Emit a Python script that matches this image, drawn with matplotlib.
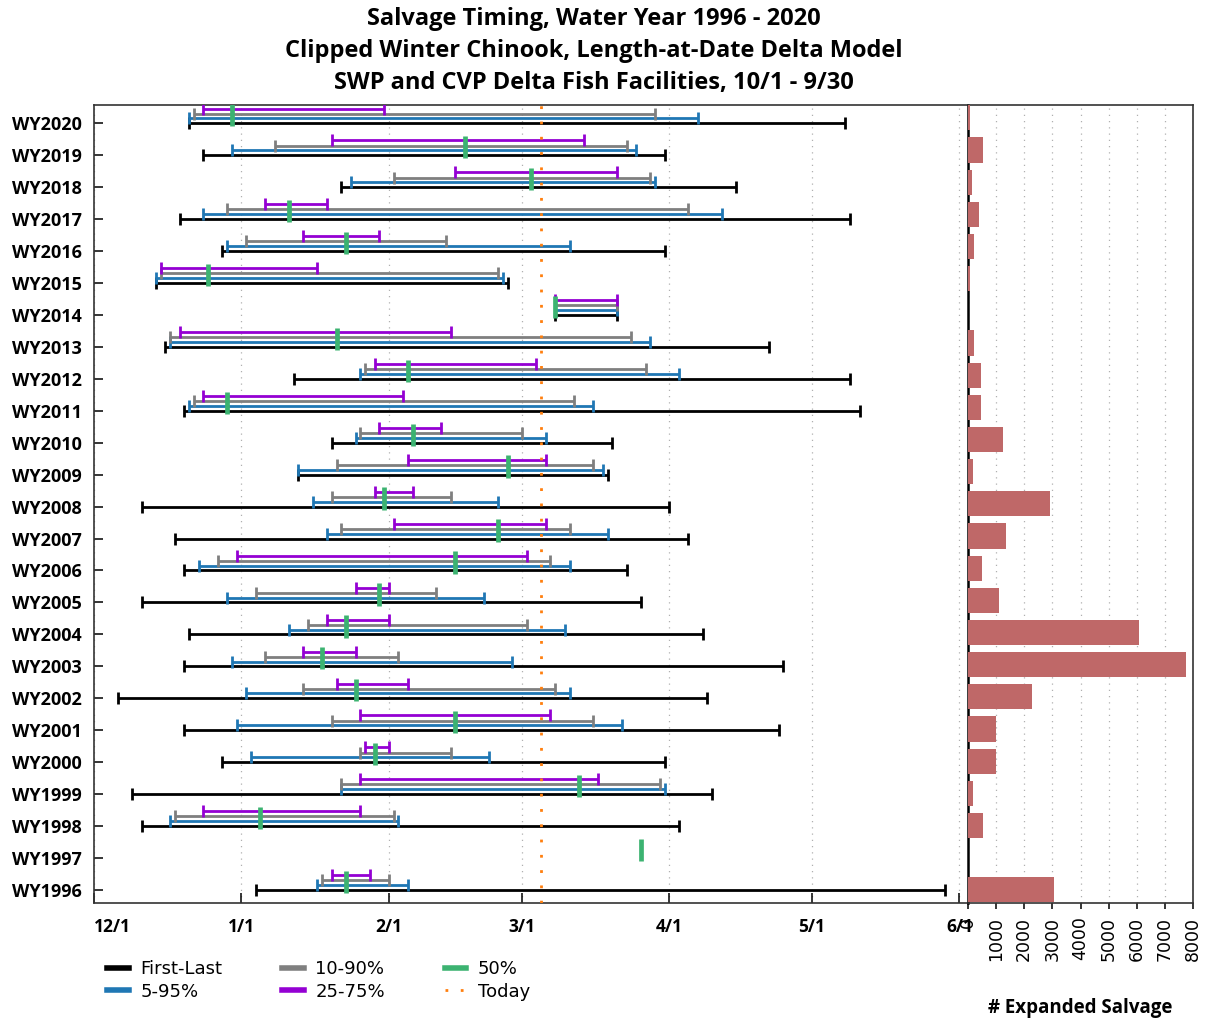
import matplotlib
matplotlib.use('Agg')
import matplotlib.pyplot as plt
import numpy as np
from matplotlib.lines import Line2D

nan = float('nan')

# ---- data (days after 12/1) ----
years = ["WY1996", "WY1997", "WY1998", "WY1999", "WY2000", "WY2001", "WY2002",
         "WY2003", "WY2004", "WY2005", "WY2006", "WY2007", "WY2008", "WY2009",
         "WY2010", "WY2011", "WY2012", "WY2013", "WY2014", "WY2015", "WY2016",
         "WY2017", "WY2018", "WY2019", "WY2020"]
first_day = [34, nan, 10, 8, 27, 19, 5, 19, 20, 10, 19, 17, 10, 43, 50, 19, 42, 15, 97, 13, 27, 18, 52, 23, 20]
last_day = [179, nan, 123, 130, 120, 144, 129, 145, 128, 115, 112, 125, 121, 108, 109, 161, 159, 142, 110, 87, 120, 159, 135, 120, 158]
p05 = [47, nan, 16, 52, 33, 30, 32, 29, 41, 28, 22, 49, 46, 43, 55, 20, 56, 16, 97, 13, 28, 23, 54, 29, 20]
p95 = [66, nan, 64, 120, 83, 111, 100, 88, 99, 82, 100, 108, 85, 107, 95, 105, 123, 117, 110, 86, 100, 132, 118, 114, 127]
p10 = [48, nan, 17, 52, 56, 50, 44, 36, 45, 34, 26, 52, 50, 51, 56, 21, 57, 16, 97, 14, 32, 28, 63, 38, 21]
p90 = [62, nan, 63, 119, 75, 105, 97, 64, 91, 72, 96, 100, 75, 105, 90, 101, 116, 113, 110, 85, 74, 125, 117, 112, 118]
p25 = [50, nan, 23, 56, 57, 56, 51, 44, 49, 55, 30, 63, 59, 66, 60, 23, 59, 18, 97, 14, 44, 36, 76, 50, 23]
p75 = [58, nan, 56, 106, 62, 96, 66, 55, 62, 62, 91, 95, 67, 95, 73, 65, 93, 75, 110, 47, 60, 49, 110, 103, 61]
p50 = [53, 115, 35, 102, 59, 76, 55, 48, 53, 60, 76, 85, 61, 87, 67, 28, 66, 51, 97, 24, 53, 41, 92, 78, 29]
salvage = [3060, 0, 530, 190, 1000, 980, 2260, 7740, 6080, 1110, 480, 1360, 2930, 190,
           1245, 470, 470, 200, 10, 60, 225, 380, 140, 545, 80]
today = 94
month_ticks = [0, 31, 62, 90, 121, 151, 182]
month_labels = ["12/1", "1/1", "2/1", "3/1", "4/1", "5/1", "6/1"]
salvage_ticks = [0, 1000, 2000, 3000, 4000, 5000, 6000, 7000, 8000]

# ---- styles ----
C_BLACK = '#000000'
C_BLUE = '#1f77b4'
C_GRAY = '#7f7f7f'
C_PURPLE = '#9400d3'
C_GREEN = '#3cb371'
C_ORANGE = '#ff7f0e'
C_BAR = '#bf6868'

W, H = 1209, 1019
fig = plt.figure(figsize=(W / 100, H / 100), dpi=100)
ax = fig.add_axes([94 / W, (H - 902.7) / H, (968 - 94) / W, (902.7 - 105) / H])
ax2 = fig.add_axes([968 / W, (H - 902.7) / H, (1193 - 968) / W, (902.7 - 105) / H])

ypos = np.arange(len(years))
series = [(first_day, last_day, C_BLACK, 0.0),
          (p05, p95, C_BLUE, 0.15),
          (p10, p90, C_GRAY, 0.30),
          (p25, p75, C_PURPLE, 0.46)]
for z, (lo, hi, col, off) in enumerate(series):
    for i in range(len(years)):
        if np.isnan(lo[i]):
            continue
        ax.plot([lo[i], hi[i]], [ypos[i] + off, ypos[i] + off], color=col, lw=2.0,
                marker='|', ms=9, mew=2.0, solid_capstyle='butt', zorder=3 + z)
for i in range(len(years)):
    ax.plot([p50[i], p50[i]], [ypos[i] - 0.1, ypos[i] + 0.6], color=C_GREEN, lw=3.4,
            solid_capstyle='butt', zorder=8)

ax.axvline(today, color=C_ORANGE, lw=2.0, ls=(0, (1, 4.5)), zorder=9)

ax.set_xlim(0, (968 - 94) / 4.755)
ax.set_ylim(-0.4, 24.57)
ax.set_xticks(month_ticks)
ax.set_xticklabels(month_labels)
ax.set_yticks(ypos)
ax.set_yticklabels(years)
for lab in ax.get_yticklabels():
    lab.set_fontfamily('Open Sans')
    lab.set_fontweight('bold')
    lab.set_fontsize(13)
for lab in ax.get_xticklabels():
    lab.set_fontfamily('Open Sans')
    lab.set_fontweight('bold')
    lab.set_fontsize(12.5)
ax.get_xticklabels()[0].set_horizontalalignment('left')
ax.tick_params(axis='y', direction='in', length=6.5, width=1.1, pad=9)
ax.tick_params(axis='x', direction='in', length=7, width=1.1, pad=11)
ax.grid(axis='x', color='#b0b0b0', lw=0.9, ls=(0, (1, 4)))
ax.set_axisbelow(True)
for s in ['left', 'top', 'bottom']:
    ax.spines[s].set_linewidth(1.2)
    ax.spines[s].set_color('#333333')
ax.spines['right'].set_visible(False)

# ---- right panel ----
ax2.barh(ypos, salvage, height=0.78, color=C_BAR, zorder=3)
ax2.set_xlim(0, 8000)
ax2.set_ylim(-0.4, 24.4)
ax2.set_yticks([])
ax2.set_xticks(salvage_ticks)
ax2.set_xticklabels([str(t) for t in salvage_ticks], rotation=90, fontsize=12.5)
ax2.tick_params(axis='x', direction='out', length=4, width=1.1, pad=6)
ax2.grid(axis='x', color='#b0b0b0', lw=0.9, ls=(0, (1, 4)))
ax2.set_axisbelow(True)
for s in ['top', 'right', 'bottom']:
    ax2.spines[s].set_linewidth(1.2)
    ax2.spines[s].set_color('#333333')
ax2.spines['left'].set_linewidth(1.8)
ax2.spines['left'].set_color('#000000')
ax2.set_xlabel('# Expanded Salvage', fontfamily='Open Sans', fontweight='bold',
               fontsize=13.5, labelpad=27)

# ---- title ----
fig.text(594 / W, 1 - 7 / H,
         "Salvage Timing, Water Year 1996 - 2020\n"
         "Clipped Winter Chinook, Length-at-Date Delta Model\n"
         "SWP and CVP Delta Fish Facilities, 10/1 - 9/30",
         ha='center', va='top', fontfamily='Open Sans', fontweight='bold',
         fontsize=17, linespacing=1.45)

# ---- legend ----
handles = [Line2D([], [], color=C_BLACK, lw=4),
           Line2D([], [], color=C_BLUE, lw=4),
           Line2D([], [], color=C_GRAY, lw=4),
           Line2D([], [], color=C_PURPLE, lw=4),
           Line2D([], [], color=C_GREEN, lw=4),
           Line2D([], [], color=C_ORANGE, lw=2.0, ls=(0, (1, 4.5)))]
labels = ['First-Last', '5-95%', '10-90%', '25-75%', '50%', 'Today']
fig.legend(handles, labels, loc='upper left', bbox_to_anchor=(107 / W, 1 - 960 / H),
           ncol=3, frameon=False, fontsize=13, handlelength=1.2, handletextpad=0.65,
           columnspacing=3.3, borderpad=0, borderaxespad=0, labelspacing=0.25)

fig.savefig('out.png', dpi=100)
